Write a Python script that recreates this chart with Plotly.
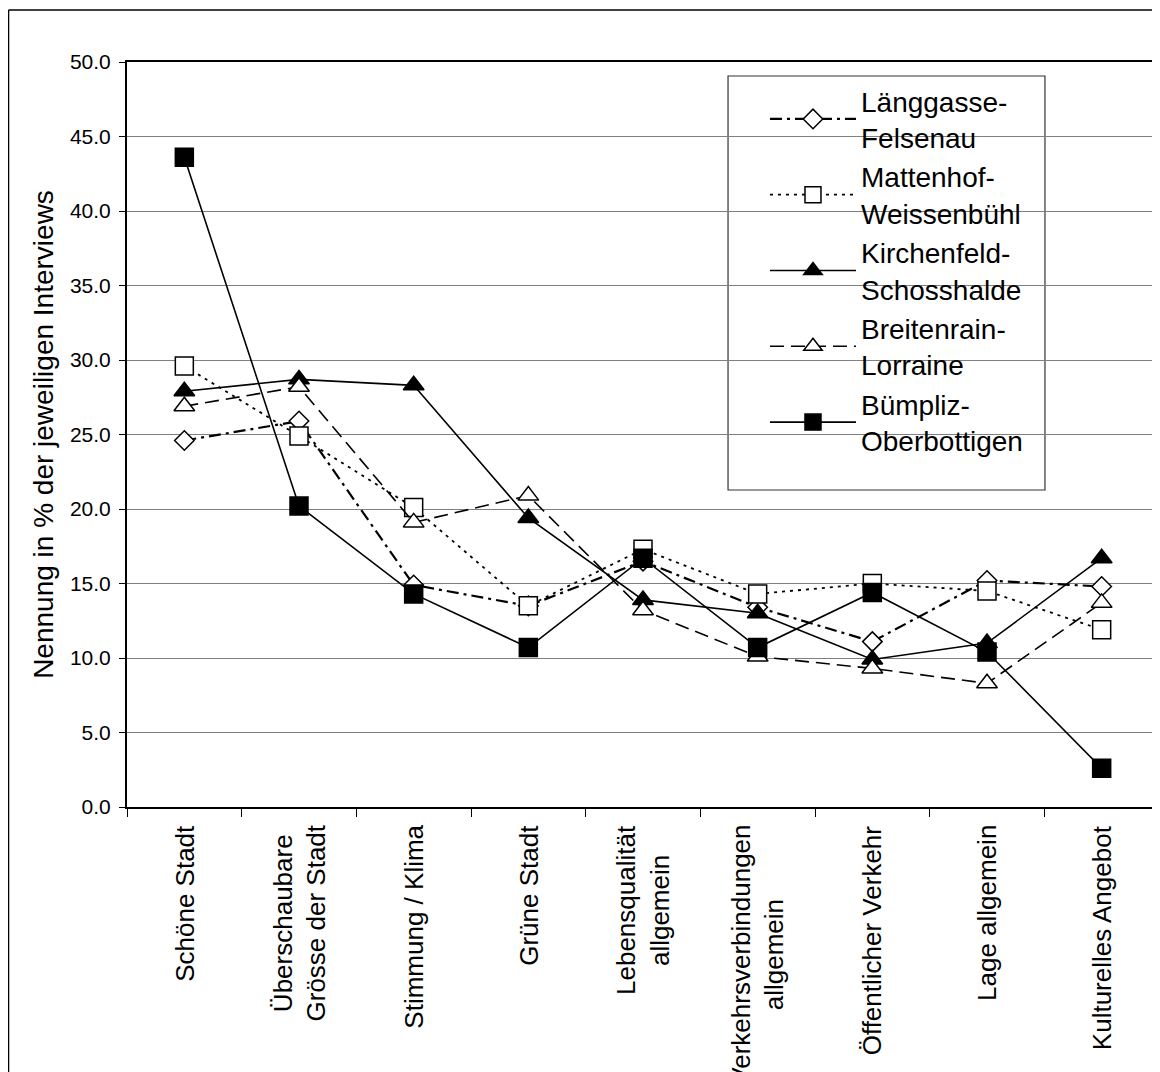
import plotly.graph_objects as go

categories = ["Schöne Stadt", "Überschaubare<br>Grösse der Stadt", "Stimmung / Klima",
              "Grüne Stadt", "Lebensqualität<br>allgemein", "Verkehrsverbindungen<br>allgemein",
              "Öffentlicher Verkehr", "Lage allgemein", "Kulturelles Angebot"]

series_names = ["Länggasse-<br>Felsenau", "Mattenhof-<br>Weissenbühl", "Kirchenfeld-<br>Schosshalde",
                "Breitenrain-<br>Lorraine", "Bümpliz-<br>Oberbottigen"]

laenggasse = [24.6, 25.9, 14.9, 13.5, 16.5, 13.4, 11.1, 15.2, 14.8]
mattenhof = [29.6, 24.9, 20.1, 13.5, 17.3, 14.3, 15.0, 14.5, 11.9]
kirchenfeld = [27.9, 28.7, 28.3, 19.4, 13.9, 13.0, 9.9, 11.0, 16.7]
breitenrain = [26.9, 28.2, 19.1, 20.9, 13.2, 10.1, 9.3, 8.3, 13.7]
buempliz = [43.6, 20.2, 14.3, 10.7, 16.7, 10.7, 14.4, 10.4, 2.6]

y_title = "Nennung in % der jeweiligen Interviews"
FONT = "Liberation Sans, Arial, sans-serif"

styles = [
    dict(symbol="diamond", size=15, fill="white", dash="12px,5px,3px,5px", width=2.2),
    dict(symbol="square", size=18, fill="white", dash="3px,5px", width=1.8),
    dict(symbol="triangle-up", size=18, fill="black", dash="solid", width=1.6),
    dict(symbol="triangle-up", size=18, fill="white", dash="14px,7px", width=1.6),
    dict(symbol="square", size=18, fill="black", dash="solid", width=1.6),
]
values = [laenggasse, mattenhof, kirchenfeld, breitenrain, buempliz]

fig = go.Figure()
for name, vals, st in zip(series_names, values, styles):
    fig.add_trace(go.Scatter(
        x=categories, y=vals, name=name, mode="lines+markers",
        line=dict(color="black", width=st["width"], dash=st["dash"]),
        marker=dict(symbol=st["symbol"], size=st["size"], color=st["fill"],
                    line=dict(color="black", width=1.5)),
    ))

annotations = []
for c in categories:
    annotations.append(dict(
        x=c, xref="x", y=0, yref="paper", yanchor="top", xanchor="center",
        yshift=-16, textangle=-90, text=c, showarrow=False, align="center",
        font=dict(family=FONT, size=26, color="black")))

fig.update_layout(
    width=1152, height=1064,
    margin=dict(l=119, r=1, t=54, b=265),
    paper_bgcolor="white", plot_bgcolor="white",
    font=dict(family=FONT, color="black"),
    showlegend=True,
    legend=dict(x=0.6182, y=0.9812, xanchor="left", yanchor="top",
                bgcolor="rgba(0,0,0,0)", borderwidth=0,
                font=dict(family=FONT, size=28, color="black"),
                itemwidth=86, tracegroupgap=0),
    xaxis=dict(type="category", range=[-0.5, 8.5], showgrid=False,
               showline=True, linecolor="black", linewidth=2, mirror=True,
               ticks="outside", tickson="boundaries", ticklen=8, tickcolor="black",
               tickwidth=1.2, showticklabels=False),
    yaxis=dict(range=[0, 50], dtick=5, tickformat=".1f", showgrid=True,
               gridcolor="#808080", gridwidth=1.3, zeroline=False,
               showline=True, linecolor="black", linewidth=2,
               ticks="outside", ticklen=6, tickcolor="black", tickwidth=1.2,
               ticklabelstandoff=4,
               tickfont=dict(family=FONT, size=21, color="black"),
               title=dict(text=y_title, font=dict(family=FONT, size=28, color="black"),
                          standoff=8)),
    annotations=annotations,
    shapes=[
        dict(type="rect", xref="paper", yref="paper", x0=0.5824, x1=0.8895, y0=0.4255, y1=0.9812,
             fillcolor="white", line=dict(color="#333333", width=1.2), layer="below"),
        dict(type="line", xref="paper", yref="paper", x0=1, x1=1, y0=0, y1=1,
             line=dict(color="#808080", width=1.5)),
        dict(type="line", xref="paper", yref="paper", x0=-0.1148, x1=-0.1148, y0=-0.4, y1=1.0698,
             line=dict(color="black", width=1.5)),
        dict(type="line", xref="paper", yref="paper", x0=-0.1148, x1=1.1, y0=1.0698, y1=1.0698,
             line=dict(color="black", width=1.5)),
    ],
)

fig.write_html("out.html")
